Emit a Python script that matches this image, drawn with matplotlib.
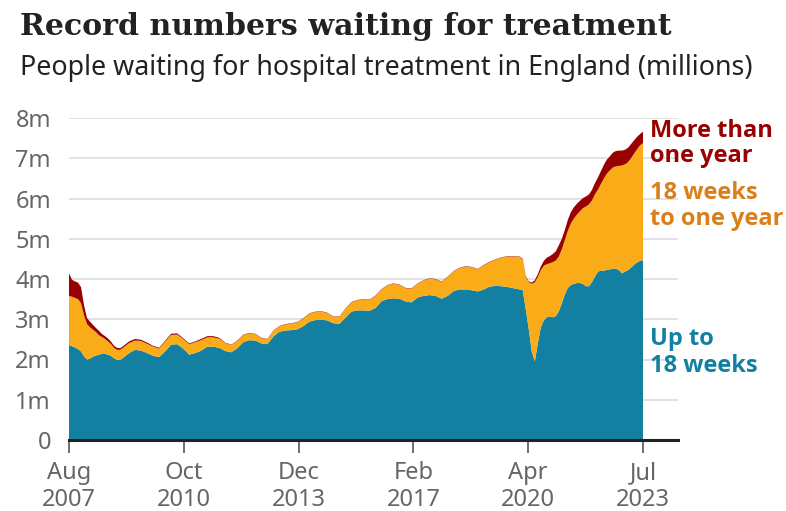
import matplotlib
matplotlib.use("Agg")
import matplotlib.pyplot as plt
import numpy as np

# ---- data (millions) ----
dates = ["2007-08","2007-09","2007-10","2007-11","2007-12","2008-01","2008-02","2008-03",
         "2008-04","2008-05","2008-06","2008-07","2008-08","2008-09","2008-10","2008-11",
         "2008-12","2009-01","2009-02","2009-04","2009-06","2009-08","2009-10","2009-12",
         "2010-02","2010-04","2010-06","2010-08","2010-10","2010-12","2011-02","2011-04",
         "2011-06","2011-08","2011-10","2011-12","2012-02","2012-04","2012-06","2012-08",
         "2012-10","2012-12","2013-02","2013-04","2013-06","2013-08","2013-10","2013-12",
         "2014-02","2014-04","2014-06","2014-08","2014-10","2014-12","2015-02","2015-04",
         "2015-06","2015-08","2015-10","2015-12","2016-02","2016-04","2016-06","2016-08",
         "2016-10","2016-12","2017-02","2017-04","2017-06","2017-08","2017-10","2017-12",
         "2018-02","2018-04","2018-06","2018-08","2018-10","2018-12","2019-02","2019-04",
         "2019-06","2019-08","2019-10","2019-12","2020-02","2020-03","2020-04","2020-05",
         "2020-06","2020-07","2020-08","2020-09","2020-10","2020-11","2020-12","2021-01",
         "2021-02","2021-03","2021-04","2021-05","2021-06","2021-07","2021-08","2021-09",
         "2021-10","2021-11","2021-12","2022-01","2022-02","2022-03","2022-04","2022-05",
         "2022-06","2022-07","2022-08","2022-09","2022-10","2022-11","2022-12","2023-01",
         "2023-02","2023-03","2023-04","2023-05","2023-06","2023-07"]

up_to_18_weeks = [2.36,2.33,2.30,2.26,2.20,2.08,2.00,2.02,2.07,2.10,2.12,2.14,2.14,2.12,2.09,2.03,
                  1.99,1.99,2.04,2.16,2.24,2.22,2.16,2.09,2.06,2.20,2.37,2.38,2.27,2.12,2.16,2.22,
                  2.32,2.32,2.29,2.21,2.18,2.28,2.43,2.48,2.47,2.40,2.38,2.57,2.69,2.72,2.73,2.75,
                  2.83,2.94,2.98,2.99,2.97,2.90,2.89,3.04,3.19,3.22,3.22,3.21,3.28,3.45,3.50,3.52,
                  3.51,3.44,3.42,3.54,3.58,3.60,3.58,3.51,3.58,3.70,3.74,3.74,3.72,3.69,3.74,3.81,
                  3.83,3.82,3.80,3.77,3.74,3.72,3.25,2.75,2.20,1.95,2.40,2.80,2.97,3.05,3.07,3.05,
                  3.08,3.20,3.40,3.62,3.78,3.85,3.88,3.90,3.90,3.88,3.82,3.82,3.92,4.06,4.18,4.21,
                  4.20,4.23,4.24,4.25,4.26,4.22,4.14,4.18,4.22,4.28,4.35,4.41,4.45,4.47]

weeks_18_to_1_year = [1.22,1.23,1.23,1.24,1.20,1.02,0.88,0.78,0.67,0.58,0.48,0.42,0.37,0.33,0.29,0.26,
                      0.25,0.25,0.25,0.25,0.23,0.24,0.23,0.23,0.21,0.25,0.24,0.24,0.24,0.26,0.27,0.26,
                      0.23,0.23,0.23,0.20,0.18,0.18,0.18,0.17,0.16,0.13,0.12,0.14,0.13,0.15,0.16,0.17,
                      0.19,0.20,0.20,0.20,0.18,0.16,0.17,0.22,0.23,0.25,0.27,0.27,0.30,0.29,0.34,0.36,
                      0.34,0.33,0.34,0.34,0.38,0.41,0.41,0.42,0.47,0.49,0.53,0.57,0.57,0.55,0.60,0.61,
                      0.65,0.71,0.76,0.79,0.81,0.76,0.80,1.17,1.68,1.97,1.65,1.42,1.36,1.32,1.32,1.37,
                      1.38,1.36,1.34,1.35,1.42,1.53,1.62,1.70,1.78,1.88,1.98,2.03,2.03,2.04,2.04,2.15,
                      2.30,2.39,2.46,2.52,2.54,2.59,2.68,2.67,2.68,2.72,2.76,2.81,2.87,2.91]

more_than_1_year = [0.56,0.42,0.41,0.41,0.40,0.25,0.15,0.14,0.12,0.10,0.11,0.07,0.07,0.07,0.06,0.05,
                    0.05,0.04,0.04,0.04,0.04,0.03,0.03,0.02,0.02,0.02,0.03,0.03,0.02,0.02,0.02,0.03,
                    0.03,0.03,0.02,0.01,0.01,0.01,0.01,0.01,0.01,0.01,0.01,0.01,0.01,0.01,0.01,0.01,
                    0.01,0.01,0.01,0.01,0.01,0.01,0.01,0.01,0.01,0.01,0.01,0.01,0.01,0.01,0.01,0.01,
                    0.01,0.01,0.01,0.01,0.01,0.01,0.01,0.01,0.01,0.01,0.01,0.01,0.01,0.01,0.01,0.01,
                    0.01,0.01,0.01,0.01,0.01,0.02,0.02,0.02,0.03,0.05,0.07,0.09,0.12,0.16,0.18,0.20,
                    0.23,0.28,0.26,0.25,0.27,0.28,0.28,0.27,0.26,0.25,0.25,0.25,0.26,0.28,0.30,0.32,
                    0.34,0.35,0.35,0.37,0.38,0.38,0.37,0.36,0.36,0.35,0.33,0.31,0.28,0.28]

x_tick_labels = ["Aug\n2007", "Oct\n2010", "Dec\n2013", "Feb\n2017", "Apr\n2020", "Jul\n2023"]
y_ticks = [0, 1, 2, 3, 4, 5, 6, 7, 8]
y_tick_labels = ["0", "1m", "2m", "3m", "4m", "5m", "6m", "7m", "8m"]

TEAL, ORANGE, RED = "#1380A1", "#FAAB18", "#990000"

# month offsets from first date
def month_index(s):
    y, m = s.split("-")
    return (int(y) - 2007) * 12 + int(m) - 8

x = np.array([month_index(d) for d in dates], dtype=float)
a = np.array(up_to_18_weeks)
b = np.array(weeks_18_to_1_year)
c = np.array(more_than_1_year)

fig = plt.figure(figsize=(7.86, 5.11), dpi=100)
W, H = 786, 511
ax_left, ax_right, ax_top, ax_bottom = 69, 678, 118, 440
ax = fig.add_axes([ax_left / W, 1 - ax_bottom / H, (ax_right - ax_left) / W, (ax_bottom - ax_top) / H])

ax.stackplot(x, a, b, c, colors=[TEAL, ORANGE, RED], linewidth=0, zorder=2)

ax.set_xlim(0, x[-1] * (ax_right - ax_left) / (643 - ax_left))
ax.set_ylim(0, 8)

for s in ["top", "right", "left"]:
    ax.spines[s].set_visible(False)
ax.spines["bottom"].set_color("#222222")
ax.spines["bottom"].set_linewidth(2.2)
ax.spines["bottom"].set_zorder(5)

tick_font = ["Noto Sans", "DejaVu Sans"]
ax.set_yticks(y_ticks)
ax.set_yticklabels(y_tick_labels)
ax.yaxis.grid(True, color="#dddddd", linewidth=1.2, zorder=0)
ax.set_axisbelow(True)
ax.tick_params(axis="y", length=0, pad=13, labelsize=17, labelcolor="#666666")

xt = np.linspace(0, x[-1], 6)
ax.set_xticks(xt)
ax.set_xticklabels(x_tick_labels)
ax.tick_params(axis="x", length=9, width=1.2, color="#555555", pad=6, labelsize=17,
               labelcolor="#666666")
for lab in ax.get_xticklabels() + ax.get_yticklabels():
    lab.set_family(tick_font)
for lab in ax.get_xticklabels():
    lab.set_linespacing(1.2)

fig.text(20 / W, 1 - 35 / H, "Record numbers waiting for treatment", fontsize=21.6,
         family=["DejaVu Serif"], fontweight="bold", color="#222222", va="baseline", ha="left")
fig.text(20 / W, 1 - 75 / H, "People waiting for hospital treatment in England (millions)",
         fontsize=19.3, family=["Noto Sans", "DejaVu Sans"], color="#222222", va="baseline", ha="left")

lab_font = ["Open Sans", "Noto Sans", "DejaVu Sans"]
lx = 650 / W
fs = 17
fig.text(lx, 1 - 137 / H, "More than", color=RED, fontsize=fs, fontweight="bold",
         family=lab_font, va="baseline", ha="left")
fig.text(lx, 1 - 162 / H, "one year", color=RED, fontsize=fs, fontweight="bold",
         family=lab_font, va="baseline", ha="left")
fig.text(lx, 1 - 199 / H, "18 weeks", color="#D9801A", fontsize=fs, fontweight="bold",
         family=lab_font, va="baseline", ha="left")
fig.text(lx, 1 - 225 / H, "to one year", color="#D9801A", fontsize=fs, fontweight="bold",
         family=lab_font, va="baseline", ha="left")
fig.text(lx, 1 - 345 / H, "Up to", color=TEAL, fontsize=fs, fontweight="bold",
         family=lab_font, va="baseline", ha="left")
fig.text(lx, 1 - 372 / H, "18 weeks", color=TEAL, fontsize=fs, fontweight="bold",
         family=lab_font, va="baseline", ha="left")

fig.savefig("out.png", dpi=100, facecolor="white")
